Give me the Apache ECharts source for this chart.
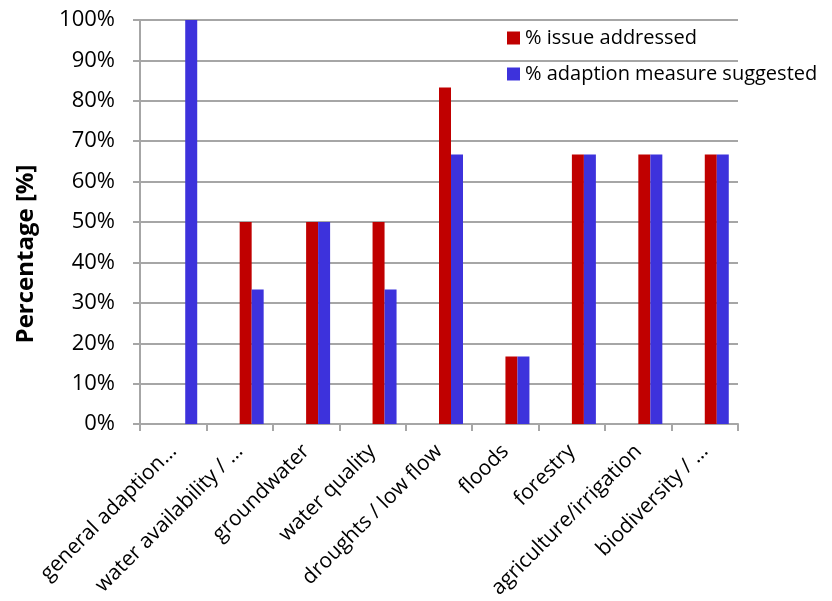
<!DOCTYPE html>
<html>
<head>
<meta charset="utf-8">
<script src="https://cdn.jsdelivr.net/npm/echarts@6/dist/echarts.min.js"></script>
<style>
  html, body { margin: 0; padding: 0; background: #fff; }
  #chart { width: 832px; height: 601px; }
</style>
</head>
<body>
<div id="chart"></div>
<script>
// Topic categories along the x axis
var categories = [
  'general adaption…',
  'water availability / …',
  'groundwater',
  'water quality',
  'droughts / low flow',
  'floods',
  'forestry',
  'agriculture/irrigation',
  'biodiversity / …'
];

// Shares in percent
var issueAddressed = [0, 50, 50, 50, 83.3, 16.7, 66.7, 66.7, 66.7];
var measureSuggested = [100, 33.3, 50, 33.3, 66.7, 16.7, 66.7, 66.7, 66.7];

var seriesNames = ['% issue addressed', '% adaption measure suggested'];
var yTicks = [0, 10, 20, 30, 40, 50, 60, 70, 80, 90, 100];
var yTitle = 'Percentage [%]';

var FONT = '"Open Sans", "Noto Sans", sans-serif';
var GRID_GREY = '#a6a6a6';

var chart = echarts.init(document.getElementById('chart'), null, { renderer: 'canvas' });

chart.setOption({
  animation: false,
  backgroundColor: '#ffffff',
  textStyle: { fontFamily: FONT, color: '#000' },
  grid: { left: 140, right: 94, top: 20, bottom: 176, containLabel: false },
  // vertical axis title, sitting a little below the plot's mid-height
  graphic: [{
    type: 'text',
    x: 26,
    y: 254,
    rotation: Math.PI / 2,
    style: {
      text: yTitle,
      fontFamily: FONT,
      fontSize: 24,
      fontWeight: 'bold',
      fill: '#000',
      align: 'center',
      verticalAlign: 'middle'
    }
  }],
  legend: {
    data: seriesNames,
    orient: 'vertical',
    left: 507,
    top: 28,
    padding: 0,
    itemGap: 16,
    itemWidth: 13,
    itemHeight: 13,
    icon: 'rect',
    textStyle: { fontFamily: FONT, fontSize: 20, color: '#000' }
  },
  xAxis: {
    type: 'category',
    data: categories,
    axisLine: { lineStyle: { color: GRID_GREY, width: 2 } },
    axisTick: { show: true, length: 7, lineStyle: { color: GRID_GREY, width: 2 } },
    axisLabel: {
      rotate: 45,
      interval: 0,
      margin: 24,
      fontFamily: FONT,
      fontSize: 21,
      color: '#000'
    }
  },
  yAxis: {
    type: 'value',
    min: yTicks[0],
    max: yTicks[yTicks.length - 1],
    interval: 10,
    axisLine: { show: true, lineStyle: { color: GRID_GREY, width: 2 } },
    axisTick: { show: true, length: 7, lineStyle: { color: GRID_GREY, width: 2 } },
    splitLine: { show: true, lineStyle: { color: GRID_GREY, width: 2 } },
    axisLabel: {
      margin: 25,
      fontFamily: FONT,
      fontSize: 22,
      color: '#000',
      formatter: function (v) { return v + '%'; }
    }
  },
  series: [
    // two empty slots keep the bar pair to the right of each category centre
    { type: 'bar', name: 'slot-a', data: [], barWidth: 12, barGap: 0 },
    { type: 'bar', name: 'slot-b', data: [], barWidth: 12, barGap: 0 },
    {
      type: 'bar',
      name: seriesNames[0],
      data: issueAddressed,
      barWidth: 12,
      barGap: 0,
      itemStyle: { color: '#c00000' }
    },
    {
      type: 'bar',
      name: seriesNames[1],
      data: measureSuggested,
      barWidth: 12,
      barGap: 0,
      itemStyle: { color: '#3d32dc' }
    }
  ]
});
</script>
</body>
</html>
